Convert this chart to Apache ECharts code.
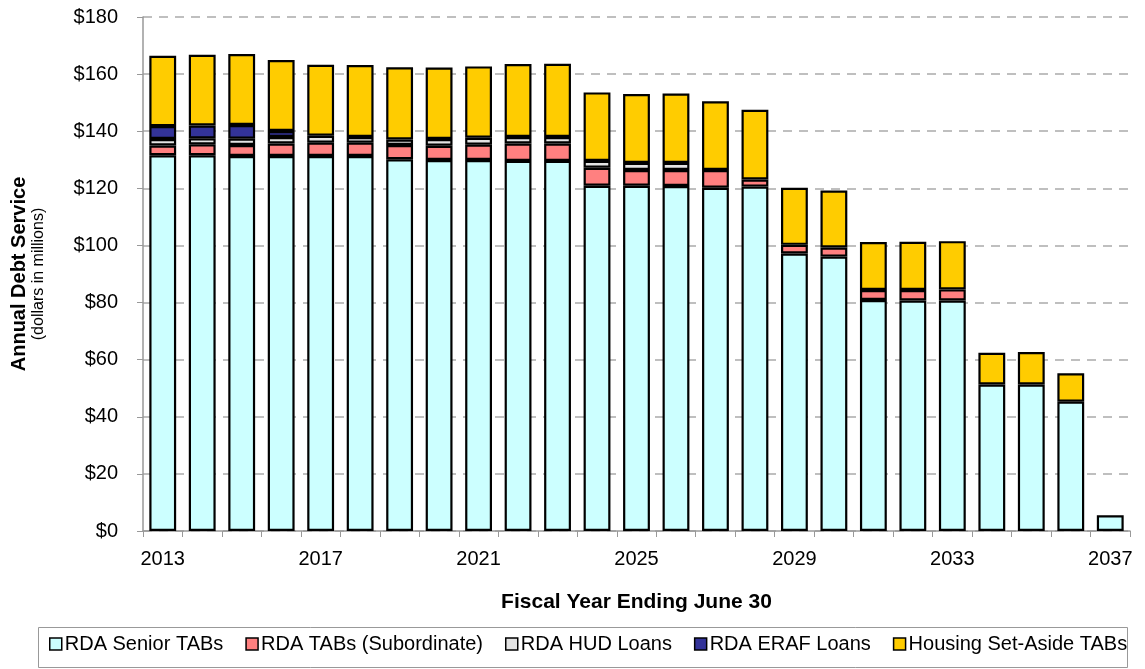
<!DOCTYPE html>
<html>
<head>
<meta charset="utf-8">
<script src="https://cdn.jsdelivr.net/npm/echarts@6/dist/echarts.min.js"></script>
<style>html,body{margin:0;padding:0;background:#fff}#c{width:1145px;height:669px}</style>
</head>
<body>
<div id="c"></div>
<script>
const years = ['2013','2014','2015','2016','2017','2018','2019','2020','2021','2022','2023','2024','2025','2026','2027','2028','2029','2030','2031','2032','2033','2034','2035','2036','2037'];
const seniorTABs = [131.6,131.6,131.3,131.3,131.3,131.3,130.2,129.9,129.9,129.6,129.6,120.9,120.9,120.8,120.2,120.6,97.2,96.1,80.9,80.7,80.7,51.3,51.3,45.3,5.5];
const subordinateTABs = [3.4,3.8,3.9,4.4,4.7,4.7,5.0,5.0,5.4,6.1,6.1,6.3,5.5,5.6,6.2,2.5,3.0,3.2,3.5,3.7,3.9,null,null,null,null];
const hudLoans = [2.3,2.1,2.2,2.3,2.4,2.0,1.9,2.4,2.4,2.3,2.3,2.4,2.5,2.5,null,null,null,null,null,null,null,null,null,null,null];
const erafLoans = [4.5,4.5,4.8,2.1,null,null,null,null,null,null,null,null,null,null,null,null,null,null,null,null,null,null,null,null,null];
const housingTABs = [24.6,24.8,24.8,24.8,24.9,25.2,25.3,25.0,25.0,25.5,25.6,24.0,24.1,24.3,24.1,24.4,20.0,19.9,16.8,16.9,16.9,11.1,11.4,9.9,null];
const seriesNames = ['RDA Senior TABs','RDA TABs (Subordinate)','RDA HUD Loans','RDA ERAF Loans','Housing Set-Aside TABs'];
const seriesColors = ['#CCFFFF','#FF8080','#E3E3E3','#333399','#FFCC00'];
const yTicks = [0,20,40,60,80,100,120,140,160,180];

const font = 'Liberation Sans, Arial, sans-serif';
const chart = echarts.init(document.getElementById('c'), null, {renderer:'canvas'});
const dataSets = [seniorTABs, subordinateTABs, hudLoans, erafLoans, housingTABs];
const series = dataSets.map((d,i)=>({
  name: seriesNames[i],
  type:'bar',
  stack:'total',
  data:d,
  barWidth:'68%',
  itemStyle:{color:seriesColors[i], borderColor:'#000', borderWidth:2.2},
  emphasis:{disabled:true}
}));
chart.setOption({
  animation:false,
  backgroundColor:'#fff',
  grid:{left:143, right:15, top:17, bottom:138},
  xAxis:{
    type:'category',
    data:years,
    axisLine:{lineStyle:{color:'#999',width:1.5}},
    axisTick:{show:true, interval:0, length:6, lineStyle:{color:'#999'}},
    axisLabel:{interval:3, color:'#000', fontSize:20, fontFamily:font, margin:18},
    name:'Fiscal Year Ending June 30',
    nameLocation:'middle',
    nameGap:61,
    nameTextStyle:{color:'#000', fontSize:21, fontWeight:'bold', fontFamily:font}
  },
  yAxis:{
    type:'value',
    min:yTicks[0], max:yTicks[yTicks.length-1], interval:20,
    axisLine:{show:true, lineStyle:{color:'#999',width:1.5}},
    axisTick:{show:true, inside:false, length:6, lineStyle:{color:'#999'}},
    axisLabel:{color:'#000', fontSize:20, fontFamily:font, margin:25, formatter:v=>'$'+v},
    splitLine:{show:true, lineStyle:{color:'#aaa', type:[9,7], width:1.5}}
  },
  legend:{
    bottom:10, left:44,
    itemWidth:12, itemHeight:12, itemGap:22,
    icon:'rect',
    textStyle:{color:'#000', fontSize:20, fontFamily:font, padding:[0,0,0,-2]},
    itemStyle:{borderColor:'#000', borderWidth:1.5},
    data:seriesNames
  },
  graphic:[
    {type:'rect', shape:{x:38.5, y:627.5, width:1089, height:40}, style:{fill:'none', stroke:'#999', lineWidth:1}, silent:true, z:-1},
    {type:'text', x:19, y:274, rotation:Math.PI/2, style:{text:'Annual Debt Service', fill:'#000', font:'bold 20px '+font, textAlign:'center', textVerticalAlign:'middle'}},
    {type:'text', x:39, y:274, rotation:Math.PI/2, style:{text:'(dollars in millions)', fill:'#000', font:'16px '+font, textAlign:'center', textVerticalAlign:'middle'}}
  ],
  series:series
});
</script>
</body>
</html>
